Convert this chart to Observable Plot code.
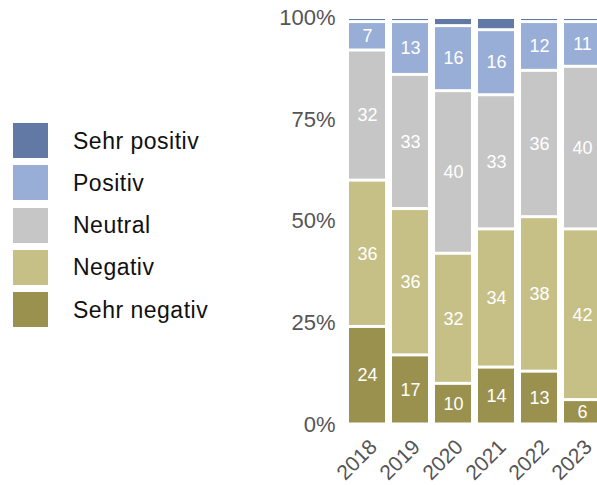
<!DOCTYPE html>
<html>
<head>
<meta charset="utf-8">
<script src="https://cdn.jsdelivr.net/npm/d3@7"></script>
<script src="https://cdn.jsdelivr.net/npm/@observablehq/plot@0.6"></script>
<style>
  html, body { margin: 0; padding: 0; background: #fff; overflow: hidden; }
  #wrap { position: relative; width: 597px; height: 485px; font-family: "Liberation Sans", Arial, Helvetica, sans-serif; }
  #chart { position: absolute; left: 0; top: 0; }
  #legend { position: absolute; left: 13px; top: 123px; }
  .item { position: relative; height: 42.3px; }
  .sw { position: absolute; left: 0; top: 0; width: 35px; height: 35px; }
  .lab { position: absolute; left: 60px; top: 17.5px; transform: translateY(-50%); font-size: 23px; letter-spacing: 0.5px; color: #111; white-space: nowrap; }
</style>
</head>
<body>
<div id="wrap">
  <div id="chart"></div>
  <div id="legend"></div>
</div>
<script>
const years = ["2018", "2019", "2020", "2021", "2022", "2023"];
const categories = ["Sehr negativ", "Negativ", "Neutral", "Positiv", "Sehr positiv"];
const sehrNegativ = [24, 17, 10, 14, 13, 6];
const negativ = [36, 36, 32, 34, 38, 42];
const neutral = [32, 33, 40, 33, 36, 40];
const positiv = [7, 13, 16, 16, 12, 11];
const sehrPositiv = [1, 1, 2, 3, 1, 1];
const colors = ["#9a914f", "#c6c087", "#c6c6c6", "#98aed6", "#6279a6"];
const yTicks = [0, 25, 50, 75, 100];

const series = [sehrNegativ, negativ, neutral, positiv, sehrPositiv];
const data = [];
years.forEach((year, i) => {
  categories.forEach((cat, j) => {
    data.push({year, cat, value: series[j][i]});
  });
});

const chart = Plot.plot({
  width: 597,
  height: 485,
  marginTop: 17.5,
  marginBottom: 61,
  marginLeft: 344,
  marginRight: 0,
  style: {fontFamily: "'Liberation Sans', Arial, Helvetica, sans-serif", overflow: "visible", background: "transparent"},
  x: {domain: years, range: [344, 605], paddingInner: 0.165, paddingOuter: 0.09, label: null},
  y: {domain: [0, 100], label: null},
  color: {domain: categories, range: colors},
  marks: [
    Plot.barY(data, Plot.stackY({x: "year", y: "value", fill: "cat", order: categories, insetTop: 1.5, insetBottom: 1.5})),
    Plot.text(data, Plot.stackY({
      x: "year", y: "value", z: "cat", order: categories,
      text: d => d.cat === "Sehr positiv" ? "" : String(d.value),
      fill: "white", fontSize: 18
    })),
    Plot.axisY({ticks: yTicks, tickFormat: d => d + "%", tickSize: 0, tickPadding: 9, fontSize: 22, color: "#555", label: null, style: {letterSpacing: "0.4px"}}),
    Plot.axisX({tickRotate: -45, tickSize: 0, tickPadding: 14, dx: 6, dy: 5, fontSize: 21, color: "#555", label: null})
  ]
});
document.getElementById("chart").appendChild(chart);

const legend = document.getElementById("legend");
categories.slice().reverse().forEach((cat) => {
  const idx = categories.indexOf(cat);
  const item = document.createElement("div");
  item.className = "item";
  const sw = document.createElement("div");
  sw.className = "sw";
  sw.style.background = colors[idx];
  const lab = document.createElement("div");
  lab.className = "lab";
  lab.textContent = cat;
  item.appendChild(sw);
  item.appendChild(lab);
  legend.appendChild(item);
});
</script>
</body>
</html>
